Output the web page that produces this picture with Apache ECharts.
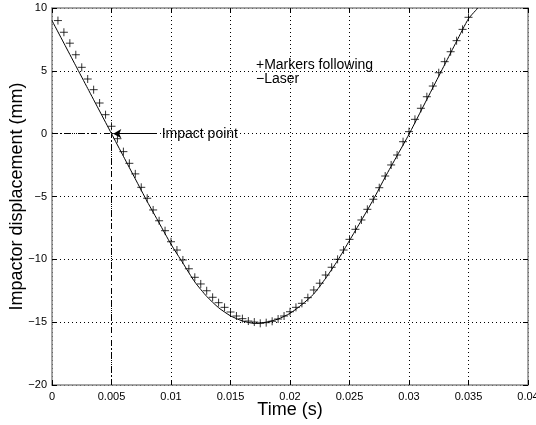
<!DOCTYPE html>
<html>
<head>
<meta charset="utf-8">
<script src="https://cdn.jsdelivr.net/npm/echarts@6/dist/echarts.min.js"></script>
<style>
html,body{margin:0;padding:0;background:#fff}
#main{width:536px;height:425px}
</style>
</head>
<body>
<div id="main"></div>
<script>
// marker readings (+), every half millisecond
var markT = [0.0005,0.001,0.0015,0.002,0.0025,0.003,0.0035,0.004,0.0045,0.005,
  0.0055,0.006,0.0065,0.007,0.0075,0.008,0.0085,0.009,0.0095,0.01,
  0.0105,0.011,0.0115,0.012,0.0125,0.013,0.0135,0.014,0.0145,0.015,
  0.0155,0.016,0.0165,0.017,0.0175,0.018,0.0185,0.019,0.0195,0.02,
  0.0205,0.021,0.0215,0.022,0.0225,0.023,0.0235,0.024,0.0245,0.025,
  0.0255,0.026,0.0265,0.027,0.0275,0.028,0.0285,0.029,0.0295,0.03,
  0.0305,0.031,0.0315,0.032,0.0325,0.033,0.0335,0.034,0.0345,0.035]
var markY = [9.0,8.07,7.2,6.28,5.28,4.35,3.5,2.44,1.51,0.59,
  -0.4,-1.43,-2.36,-3.2,-4.27,-5.14,-6.07,-6.93,-7.72,-8.6,
  -9.26,-10.05,-10.75,-11.43,-11.96,-12.5,-13.02,-13.45,-13.82,-14.19,
  -14.51,-14.72,-14.91,-14.99,-15.09,-15.04,-14.93,-14.75,-14.51,-14.17,
  -13.82,-13.5,-13.05,-12.44,-11.9,-11.25,-10.63,-10.0,-9.26,-8.41,
  -7.61,-6.87,-6.02,-5.22,-4.3,-3.37,-2.49,-1.7,-0.64,0.16,
  1.14,2.02,2.94,3.79,4.85,5.73,6.52,7.4,8.3,9.26]

// laser curve
var laserT = [0,0.001,0.002,0.003,0.004,0.005,0.006,0.007,0.008,0.009,0.01,
  0.011,0.012,0.013,0.014,0.015,0.016,0.017,0.018,0.019,0.02,
  0.021,0.022,0.023,0.024,0.025,0.026,0.027,0.028,0.029,0.03,
  0.031,0.032,0.033,0.034,0.035,0.0358]
var laserY = [9.0,7.2,5.4,3.6,1.8,0.0,-1.8,-3.6,-5.4,-7.1,-8.8,
  -10.3,-11.8,-12.95,-13.85,-14.5,-14.9,-15.1,-15.0,-14.75,-14.3,
  -13.6,-12.75,-11.5,-10.1,-8.5,-6.9,-5.25,-3.45,-1.75,-0.05,
  1.8,3.65,5.5,7.35,9.15,10.0]

// impact point
var impactT = 0.005, impactY = 0
var arrowFrom = 0.0088, arrowTo = 0.00515

var font = 'Liberation Sans'
var boxColor = '#888'

function pairs(a, b) {
  return a.map(function (v, i) { return [v, b[i]] })
}
function num(v) {
  return String(parseFloat(v.toFixed(4))).replace('-', '\u2212')
}

var chart = echarts.init(document.getElementById('main'))

var baseAxis = {
  type: 'value',
  axisLine: { show: true, onZero: false, lineStyle: { color: boxColor, width: 1.5 } },
  axisTick: { show: true, inside: true, length: 5, lineStyle: { color: '#000', width: 1 } },
  axisLabel: { show: false },
  splitLine: { show: false }
}

var option = {
  animation: false,
  textStyle: { fontFamily: font },
  grid: { left: 52, right: 8, top: 8, bottom: 40, containLabel: false, outerBoundsMode: 'none' },
  xAxis: [
    echarts.util.merge({
      min: 0, max: 0.04, interval: 0.005,
      position: 'bottom',
      name: 'Time (s)',
      nameLocation: 'middle',
      nameGap: 16,
      nameMoveOverlap: false,
      nameTextStyle: { fontSize: 18, color: '#000', fontFamily: font },
      axisLabel: { show: true, fontSize: 11, color: '#000', margin: 6, formatter: num },
      splitLine: { show: true, lineStyle: { type: [1, 3], color: '#000', width: 1 } }
    }, baseAxis),
    echarts.util.merge({ min: 0, max: 0.04, interval: 0.005, position: 'top' }, baseAxis)
  ],
  yAxis: [
    echarts.util.merge({
      min: -20, max: 10, interval: 5,
      position: 'left',
      name: 'Impactor displacement (mm)',
      nameLocation: 'middle',
      nameGap: 26,
      nameMoveOverlap: false,
      nameTextStyle: { fontSize: 18, color: '#000', fontFamily: font },
      axisLabel: { show: true, fontSize: 11, color: '#000', margin: 5, formatter: num },
      splitLine: { show: true, lineStyle: { type: [1, 3], color: '#000', width: 1 } }
    }, baseAxis),
    echarts.util.merge({ min: -20, max: 10, interval: 5, position: 'right' }, baseAxis)
  ],
  series: [{
    name: 'Laser',
    type: 'line',
    data: pairs(laserT, laserY),
    showSymbol: false,
    smooth: 0.2,
    clip: true,
    lineStyle: { color: '#000', width: 1 },
    markLine: {
      silent: true,
      symbol: ['none', 'none'],
      label: { show: false },
      lineStyle: { color: '#000', width: 1, type: [6, 3, 1, 3] },
      data: [
        [{ coord: [0, impactY] }, { coord: [impactT, impactY] }],
        [{ coord: [impactT, -20] }, { coord: [impactT, impactY] }]
      ]
    }
  }, {
    name: 'Markers following',
    type: 'scatter',
    data: pairs(markT, markY),
    symbol: 'path://M5,0L5,10M0,5L10,5',
    symbolSize: 8,
    itemStyle: { color: 'none', borderColor: '#000', borderWidth: 1 },
    markLine: {
      silent: true,
      symbol: ['none', 'none'],
      lineStyle: { color: '#000', width: 1, type: 'solid' },
      label: {
        show: true,
        position: 'start',
        distance: 5,
        formatter: 'Impact point',
        color: '#000',
        fontSize: 14,
        fontFamily: font
      },
      data: [
        [{ coord: [arrowFrom, impactY] }, { coord: [arrowTo, impactY], symbol: 'arrow', symbolSize: [7, 8] }]
      ]
    }
  }],
  graphic: [
    { type: 'text', left: 256, top: 58, style: { text: '+Markers following', font: '14px "Liberation Sans"', fill: '#000' } },
    { type: 'text', left: 256, top: 72, style: { text: '\u2212Laser', font: '14px "Liberation Sans"', fill: '#000' } }
  ]
}

chart.setOption(option)
</script>
</body>
</html>
